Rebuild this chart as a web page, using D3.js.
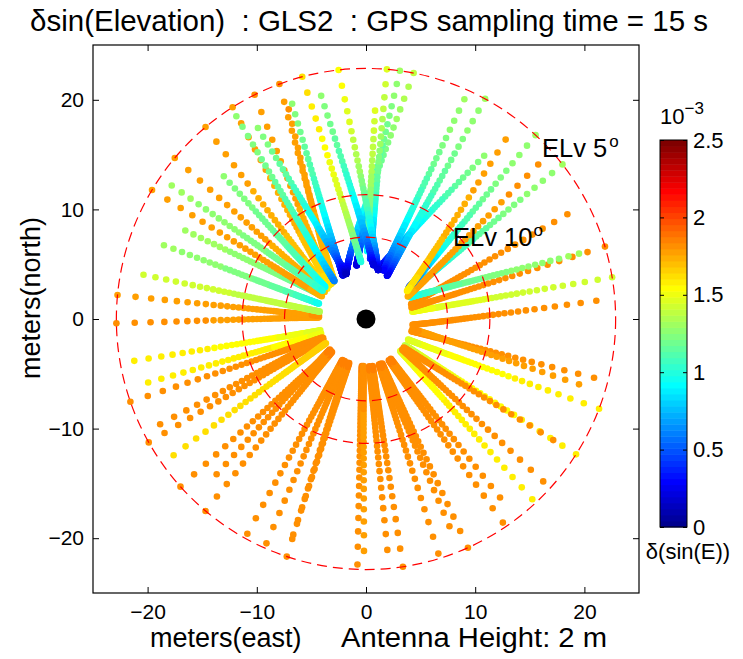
<!DOCTYPE html>
<html>
<head>
<meta charset="utf-8">
<script src="https://cdn.jsdelivr.net/npm/d3@7"></script>
<style>
  body { margin: 0; background: #fff; }
  text { font-family: "Liberation Sans", Arial, sans-serif; fill: #000; white-space: pre; }
</style>
</head>
<body>
<div id="chart"></div>
<script>
const ANT_HEIGHT = 2
const ELEV_RINGS = [5, 10, 15]
const AXIS_TICKS = [-20, -10, 0, 10, 20]
const CBAR_TICKS = [0, 0.5, 1, 1.5, 2, 2.5]
const EPOCHS_PER_DOT = 3.8

// satellite tracks: [az start, elev start, az end, elev end, dsinE start, dsinE end]
// azimuth deg clockwise from north, elevation deg, dsinE in 1e-3
const westTracks = [
	[-91, 5.0, -88, 25, 1.80, 1.78],
	[-84.5, 5.0, -86, 25, 1.78, 1.80],
	[-78.8, 5.5, -81, 25, 1.42, 1.35],
	[-70, 5.8, -72, 24, 1.30, 0.95],
	[-64, 6.2, -62, 23.5, 1.32, 1.05],
	[-100.2, 5.3, -104, 25, 1.58, 1.45],
	[-106.2, 5.5, -108, 25, 1.60, 1.50],
	[-109.3, 5.0, -113, 25, 1.80, 1.82],
	[-117, 5.4, -114, 25, 1.80, 1.80],
	[-119.5, 5.0, -116, 25, 1.80, 1.82],
	[-125.2, 5.3, -121, 25, 1.62, 1.66],
	[-132, 5.0, -132, 25, 1.80, 1.84],
	[-140, 5.0, -134, 25, 1.80, 1.84],
	[-136, 5.8, -130, 25, 1.80, 1.84]
]
const southTracks = [
	[-151, 5.1, -150, 25, 1.80, 1.84],
	[-156, 5.1, -153, 25, 1.80, 1.84],
	[-161.5, 5.0, -157, 25, 1.80, 1.84],
	[-161.3, 5.5, -159, 25, 1.80, 1.84],
	[-178, 5.1, -175, 25, 1.80, 1.84],
	[-179.5, 5.4, -177, 25, 1.78, 1.82],
	[174.7, 5.4, 176, 25, 1.80, 1.84],
	[171.5, 5.0, 172, 25, 1.80, 1.84],
	[162.8, 5.1, 164, 25, 1.80, 1.84],
	[155.9, 5.0, 160, 25, 1.80, 1.84],
	[158, 5.6, 162, 25, 1.80, 1.84],
	[146, 5.1, 151, 25, 1.80, 1.84],
	[143, 5.6, 148, 25, 1.80, 1.84]
]
const eastTracks = [
	[137.2, 5.1, 133, 25, 1.60, 1.48],
	[132.4, 5.2, 130, 25, 1.80, 1.80],
	[122.7, 5.0, 124, 25, 1.58, 1.40],
	[122.8, 5.6, 127, 25, 1.80, 1.80],
	[111, 5.0, 116, 25, 1.58, 1.46],
	[104.4, 5.3, 105, 25, 1.80, 1.80],
	[107, 5.6, 102, 25, 1.78, 1.80],
	[85.5, 5.4, 97, 25, 1.80, 1.80],
	[80.4, 5.0, 81, 25, 1.42, 1.52],
	[73.2, 5.0, 76, 25, 1.80, 1.80],
	[62.6, 5.5, 72, 25, 1.80, 1.80],
	[73, 5.6, 64, 24, 1.30, 0.95],
	[51.9, 5.0, 58, 23, 1.30, 0.60],
	[48.2, 5.4, 62, 25, 1.80, 1.75],
	[42.8, 5.0, 54, 22.5, 1.30, 0.45],
	[38, 5.5, 56, 24, 1.78, 1.58]
]
const northwestTracks = [
	[-20.3, 5.0, -40, 24, 1.80, 1.65],
	[-20.3, 5.6, -42, 24, 1.80, 1.65],
	[-26.5, 5.0, -45, 24, 1.80, 1.62],
	[-32.3, 5.0, -48, 24, 1.78, 1.60],
	[-40, 5.0, -52, 24, 1.78, 1.58],
	[-50, 5.0, -57, 24, 1.78, 1.70],
	[-59, 5.0, -63, 24, 1.78, 1.75]
]
const northTracks = [
	[36, 6.2, 14, 23.5, 1.25, 0.15],
	[28.5, 5.0, 26, 24.5, 1.30, 0.25],
	[24.2, 5.2, 20, 23, 1.30, 0.30],
	[11, 5.0, -24, 24, 1.38, 0.15],
	[7.8, 5.0, -10, 22, 1.30, 0.20],
	[4.8, 5.0, 4, 20, 1.45, 0.35],
	[2.5, 6.0, 1, 18, 1.45, 0.90],
	[-6.3, 5.0, 14, 23.5, 1.55, 0.20],
	[-11.4, 5.5, 8, 22, 1.25, 0.20],
	[-14.8, 5.0, -5, 21, 1.62, 1.00],
	[-19, 5.5, -28, 24, 1.25, 0.20],
	[-29.6, 5.7, -24, 24, 1.25, 0.15],
	[-32.7, 5.2, -40, 24, 1.25, 0.60],
	[-45, 6.2, -52, 23, 1.25, 0.90],
	[-55.6, 5.3, -57, 23, 1.30, 1.00]
]

const WIDTH = 743
const HEIGHT = 659
const PLOT = { LEFT: 93, RIGHT: 639, TOP: 45, BOTTOM: 593 }
const CBAR = { LEFT: 660, RIGHT: 687, TOP: 140, BOTTOM: 527 }
const RAD = Math.PI / 180

// matlab jet(64)
function jet(v) {
	let row = Math.floor(v / 2.5 * 64) + 1
	row = Math.max(1, Math.min(64, row))
	const clamp = d => Math.max(0, Math.min(1, d))
	let r = 0, g = 0, b = 0
	if (row <= 8) b = (8 + row) / 16
	else if (row <= 24) b = 1
	else b = clamp((40 - row) / 16)
	if (row <= 8) g = 0
	else if (row <= 24) g = (row - 8) / 16
	else if (row <= 40) g = 1
	else g = clamp((56 - row) / 16)
	if (row <= 24) r = 0
	else if (row <= 40) r = (row - 24) / 16
	else if (row <= 56) r = 1
	else r = (72 - row) / 16
	return d3.rgb(r * 255, g * 255, b * 255).toString()
}

// reflection points every few epochs along a track
function trackPoints(t) {
	const [az0, e0, az1, e1, v0, v1] = t
	const s0 = Math.sin(e0 * RAD), s1 = Math.sin(e1 * RAD)
	const pts = []
	let s = s0
	while (s <= s1) {
		const f = (s - s0) / (s1 - s0)
		const v = v0 + (v1 - v0) * f
		const az = (az0 + (az1 - az0) * f) * RAD
		const r = ANT_HEIGHT * Math.sqrt(1 - s * s) / s
		pts.push({ x: r * Math.sin(az), y: r * Math.cos(az), v: v })
		s += EPOCHS_PER_DOT * v / 1000
	}
	return pts
}

const svg = d3.select("#chart").append("svg")
	.attr("width", WIDTH)
	.attr("height", HEIGHT)

const x = d3.scaleLinear().domain([-25, 25]).range([PLOT.LEFT, PLOT.RIGHT])
const y = d3.scaleLinear().domain([-25, 25]).range([PLOT.BOTTOM, PLOT.TOP])

svg.append("text")
	.attr("x", 369)
	.attr("y", 31)
	.attr("text-anchor", "middle")
	.style("font-size", "29.5px")
	.text("δsin(Elevation)  : GLS2  : GPS sampling time = 15 s")

// dots
const allTracks = [westTracks, southTracks, eastTracks, northwestTracks, northTracks]
const points = allTracks.flat().flatMap(trackPoints)

svg.append("g").selectAll("circle")
	.data(points)
	.enter().append("circle")
		.attr("cx", d => x(d.x))
		.attr("cy", d => y(d.y))
		.attr("r", 3.3)
		.attr("fill", d => jet(d.v))

// elevation rings
svg.append("g").selectAll("ellipse")
	.data(ELEV_RINGS)
	.enter().append("ellipse")
		.attr("cx", x(0))
		.attr("cy", y(0))
		.attr("rx", d => x(ANT_HEIGHT / Math.tan(d * RAD)) - x(0))
		.attr("ry", d => y(0) - y(ANT_HEIGHT / Math.tan(d * RAD)))
		.attr("fill", "none")
		.attr("stroke", "#ff0000")
		.attr("stroke-width", 1.2)
		.attr("stroke-dasharray", "10,6")

// antenna
svg.append("circle")
	.attr("cx", x(0))
	.attr("cy", y(0))
	.attr("r", 9.5)
	.attr("fill", "#000")

const elv5 = svg.append("text").attr("x", 542).attr("y", 157).style("font-size", "25.5px")
elv5.append("tspan").text("ELv 5")
elv5.append("tspan").attr("dx", 2).attr("dy", -10).style("font-size", "17px").text("o")
const elv10 = svg.append("text").attr("x", 453).attr("y", 246).style("font-size", "25.5px")
elv10.append("tspan").text("ELv 10")
elv10.append("tspan").attr("dx", 1).attr("dy", -10).style("font-size", "17px").text("o")

// axes box
svg.append("rect")
	.attr("x", PLOT.LEFT).attr("y", PLOT.TOP)
	.attr("width", PLOT.RIGHT - PLOT.LEFT)
	.attr("height", PLOT.BOTTOM - PLOT.TOP)
	.attr("fill", "none").attr("stroke", "#000").attr("stroke-width", 1.2)

const xAxis = svg.append("g")
	.attr("transform", `translate(0, ${PLOT.BOTTOM})`)
	.call(d3.axisBottom(x).tickValues(AXIS_TICKS).tickSizeInner(-6).tickSizeOuter(0).tickPadding(11))
svg.append("g")
	.attr("transform", `translate(0, ${PLOT.TOP})`)
	.call(d3.axisTop(x).tickValues(AXIS_TICKS).tickSizeInner(-6).tickSizeOuter(0).tickFormat(""))
const yAxis = svg.append("g")
	.attr("transform", `translate(${PLOT.LEFT}, 0)`)
	.call(d3.axisLeft(y).tickValues(AXIS_TICKS).tickSizeInner(-6).tickSizeOuter(0).tickPadding(9))
svg.append("g")
	.attr("transform", `translate(${PLOT.RIGHT}, 0)`)
	.call(d3.axisRight(y).tickValues(AXIS_TICKS).tickSizeInner(-6).tickSizeOuter(0).tickFormat(""))

svg.selectAll(".domain").remove()
svg.selectAll(".tick line").attr("stroke", "#000")
xAxis.selectAll("text").style("font-size", "21px").style("font-family", "Liberation Sans, Arial, sans-serif")
yAxis.selectAll("text").style("font-size", "21px").style("font-family", "Liberation Sans, Arial, sans-serif")

svg.append("text")
	.attr("x", 150)
	.attr("y", 647)
	.style("font-size", "27px")
	.text("meters(east)")
svg.append("text")
	.attr("x", 341)
	.attr("y", 647)
	.attr("textLength", 266)
	.attr("lengthAdjust", "spacingAndGlyphs")
	.style("font-size", "27px")
	.text("Antenna Height: 2 m")
svg.append("text")
	.attr("transform", "translate(40, 298) rotate(-90)")
	.attr("text-anchor", "middle")
	.style("font-size", "27px")
	.text("meters(north)")

// colorbar
const c = d3.scaleLinear().domain([0, 2.5]).range([CBAR.BOTTOM, CBAR.TOP])
const bands = d3.range(64)
svg.append("g").selectAll("rect")
	.data(bands)
	.enter().append("rect")
		.attr("x", CBAR.LEFT)
		.attr("y", d => c((d + 1) * 2.5 / 64))
		.attr("width", CBAR.RIGHT - CBAR.LEFT)
		.attr("height", d => c(d * 2.5 / 64) - c((d + 1) * 2.5 / 64) + 0.5)
		.attr("fill", d => jet((d + 0.5) * 2.5 / 64))
svg.append("rect")
	.attr("x", CBAR.LEFT).attr("y", CBAR.TOP)
	.attr("width", CBAR.RIGHT - CBAR.LEFT)
	.attr("height", CBAR.BOTTOM - CBAR.TOP)
	.attr("fill", "none").attr("stroke", "#000").attr("stroke-width", 1)

const cAxis = svg.append("g")
	.attr("transform", `translate(${CBAR.RIGHT}, 0)`)
	.call(d3.axisRight(c).tickValues(CBAR_TICKS).tickSizeInner(-4).tickSizeOuter(0).tickPadding(6).tickFormat(d3.format("")))
svg.append("g")
	.attr("transform", `translate(${CBAR.LEFT}, 0)`)
	.call(d3.axisLeft(c).tickValues(CBAR_TICKS).tickSizeInner(-4).tickSizeOuter(0).tickFormat(""))
svg.selectAll(".domain").remove()
cAxis.selectAll("text").style("font-size", "22px").style("font-family", "Liberation Sans, Arial, sans-serif")

const expo = svg.append("text").attr("x", 660).attr("y", 124).style("font-size", "22px")
expo.append("tspan").text("10")
expo.append("tspan").attr("dy", -10).style("font-size", "17px").text("−3")
svg.append("text")
	.attr("x", 688)
	.attr("y", 559)
	.attr("text-anchor", "middle")
	.style("font-size", "22px")
	.text("δ(sin(E))")
</script>
</body>
</html>
